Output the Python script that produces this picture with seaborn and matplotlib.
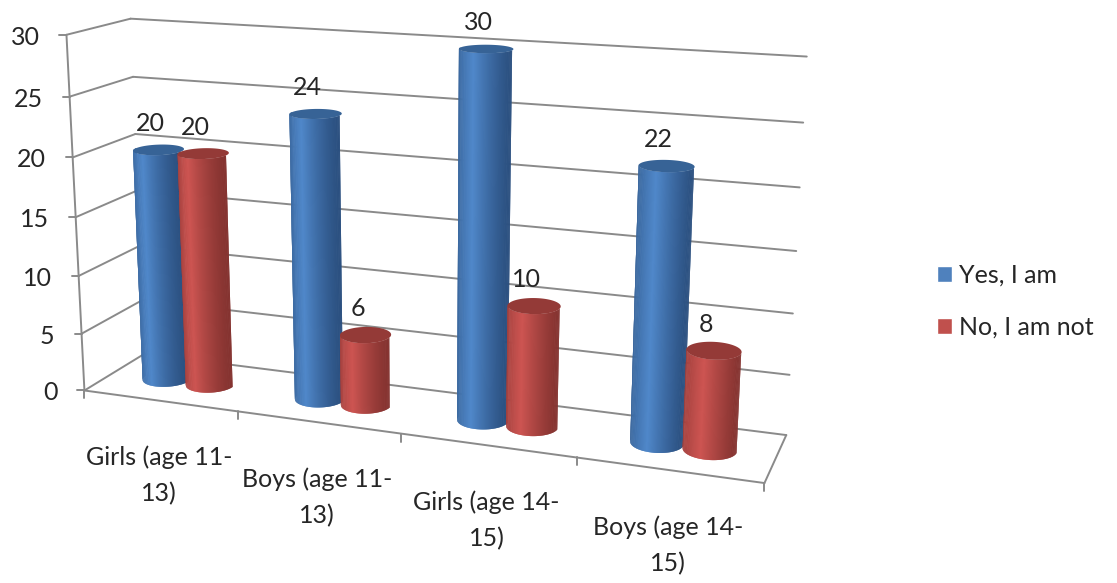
import numpy as np
import pandas as pd
import matplotlib
matplotlib.use("Agg")
import matplotlib.pyplot as plt
from matplotlib.collections import PolyCollection
from matplotlib.colors import to_rgb
import seaborn as sns

# Survey counts per group
groups = ["Girls (age 11-13)", "Boys (age 11-13)", "Girls (age 14-15)", "Boys (age 14-15)"]
group_lines = ["Girls (age 11-\n13)", "Boys (age 11-\n13)", "Girls (age 14-\n15)", "Boys (age 14-\n15)"]
answers = ["Yes, I am", "No, I am not"]
yes_counts = [20, 24, 30, 22]
no_counts = [20, 6, 10, 8]
value_ticks = [0, 5, 10, 15, 20, 25, 30]

GRID = "#8a8a8a"
TEXT = "#262626"
FONT = "Lato"
FONT_SIZE = 18
palette = {"Yes, I am": "#4F81BD", "No, I am not": "#C0504D"}
shades = {
    "Yes, I am": dict(edge_l="#38649a", mid="#5088ca", edge_r="#2b5080", cap="#376396"),
    "No, I am not": dict(edge_l="#a03f3c", mid="#cd5552", edge_r="#853330", cap="#943a37"),
}

sns.set_theme(style="white")
plt.rcParams["font.family"] = [FONT, "DejaVu Sans"]

df = pd.DataFrame({
    "group": groups * 2,
    "answer": [answers[0]] * 4 + [answers[1]] * 4,
    "count": yes_counts + no_counts,
})

W, H = 1117, 583
fig = plt.figure(figsize=(W / 100, H / 100), dpi=100)
ax = fig.add_axes([0, 0, 1, 1])

# seaborn lays out the dodged bars; their positions and heights feed the 3D cylinders
sns.barplot(data=df, x="group", y="count", hue="answer", hue_order=answers,
            palette=palette, width=0.58, gap=0, saturation=1, ax=ax)
ax.set_xlim(-0.5, 3.5)
ax.set_axis_off()

# Camera fit: (category, depth, value) -> canvas pixels, from the chart box corners
calibration = [
    (0, 0, 0, 86, 389), (0, 0, 5, 82, 333), (0, 0, 10, 79, 275), (0, 0, 15, 75, 217),
    (0, 0, 20, 72, 157), (0, 0, 25, 69, 97), (0, 0, 30, 66, 35),
    (0, 1, 0, 143, 355), (0, 1, 20, 135, 134), (0, 1, 25, 133, 77), (0, 1, 30, 132, 19),
    (4, 1, 0, 786, 434), (4, 1, 5, 790, 375), (4, 1, 10, 793, 313), (4, 1, 15, 796, 250),
    (4, 1, 20, 800, 187), (4, 1, 25, 803, 123), (4, 1, 30, 807, 57),
    (1, 0, 0, 238, 412), (2, 0, 0, 402, 435), (3, 0, 0, 576, 459), (4, 0, 0, 764, 483),
]
rows = []
for u, d, v, px, py in calibration:
    X = [u, d, v / 30, 1]
    rows.append(X + [0, 0, 0, 0] + [-px * c for c in X])
    rows.append([0, 0, 0, 0] + X + [-py * c for c in X])
camera = np.linalg.svd(np.array(rows, float))[2][-1].reshape(3, 4)


def project(u, d, v):
    u, d, v = np.broadcast_arrays(np.asarray(u, float), np.asarray(d, float), np.asarray(v, float))
    q = camera @ np.stack([u, d, v / 30, np.ones_like(u)])
    return q[0] / q[2], q[1] / q[2]


canvas = fig.add_axes([0, 0, 1, 1], facecolor="none")
canvas.set_xlim(0, W)
canvas.set_ylim(H, 0)
canvas.set_axis_off()

LINE_W = 1.4


def segment(a, b):
    xs, ys = project([a[0], b[0]], [a[1], b[1]], [a[2], b[2]])
    canvas.plot(xs, ys, color=GRID, lw=LINE_W, solid_capstyle="round", zorder=1)


# Walls, floor and ticks
for v in value_ticks:
    segment((0, 0, v), (0, 1, v))
    segment((0, 1, v), (4, 1, v))
    x, y = project(0, 0, v)
    canvas.plot([x - 7, x], [y, y], color=GRID, lw=LINE_W, zorder=1)
    canvas.text(x - 27, y + 2.5, str(v), ha="right", va="center",
                fontsize=FONT_SIZE, color=TEXT)
segment((0, 0, 0), (0, 0, 30))
segment((0, 0, 0), (4, 0, 0))
segment((4, 0, 0), (4, 1, 0))
for u in range(5):
    x, y = project(u, 0, 0)
    canvas.plot([x, x], [y, y + 8], color=GRID, lw=LINE_W, zorder=1)

# Category labels, centred under each stretch of the front floor edge
for i, label in enumerate(group_lines):
    x, y = project(i + 0.5, 0, 0)
    canvas.text(x - 1, y + 75, label, ha="center", va="center", fontsize=FONT_SIZE,
                color=TEXT, linespacing=1.68)

DEPTH_RADIUS = 0.21
theta = np.linspace(np.pi, 2 * np.pi, 81)
circle = np.linspace(0, 2 * np.pi, 81)


def shade(t, s):
    stops = [-1.0, -0.15, 1.0]
    cols = np.array([to_rgb(s["edge_l"]), to_rgb(s["mid"]), to_rgb(s["edge_r"])])
    return [np.interp(t, stops, cols[:, k]) for k in range(3)]


# Replace each flat bar with a shaded cylinder and its value label
for answer, container in zip(answers, ax.containers):
    s = shades[answer]
    for bar in container:
        bar.set_visible(False)
        uc = bar.get_x() + bar.get_width() / 2 + 0.5
        ru = bar.get_width() / 2
        top = bar.get_height()
        us = uc + ru * np.cos(theta)
        ds = 0.5 + DEPTH_RADIUS * np.sin(theta)
        xb, yb = project(us, ds, 0)
        xt, yt = project(us, ds, top)
        # Each band runs one step past its end so the next paints over it without a seam
        polys, colors = [], []
        for k in range(len(theta) - 1):
            e = min(k + 3, len(theta))
            polys.append(np.column_stack([np.r_[xb[k:e], xt[k:e][::-1]], np.r_[yb[k:e], yt[k:e][::-1]]]))
            colors.append(shade(np.cos((theta[k] + theta[k + 1]) / 2), s))
        bands = PolyCollection(polys, facecolors=colors, edgecolors="none", zorder=3)
        bands.set_snap(False)
        canvas.add_collection(bands)
        xc, yc = project(uc + ru * np.cos(circle), 0.5 + DEPTH_RADIUS * np.sin(circle), top)
        canvas.fill(xc, yc, color=s["cap"], lw=0, zorder=3, snap=False)
        xl, yl = project(uc, 0.5, top)
        canvas.text(xl - 8, yl - 26, f"{top:.0f}", ha="center", va="center",
                    fontsize=FONT_SIZE, color=TEXT, zorder=5)

sns.move_legend(ax, "upper left", bbox_to_anchor=(914 / W, 1 - 241 / H), frameon=False,
                title=None, fontsize=FONT_SIZE, handlelength=0.6, handleheight=0.6,
                labelspacing=1.18, handletextpad=0.3, labelcolor=TEXT)

fig.savefig("out.png", dpi=100)
